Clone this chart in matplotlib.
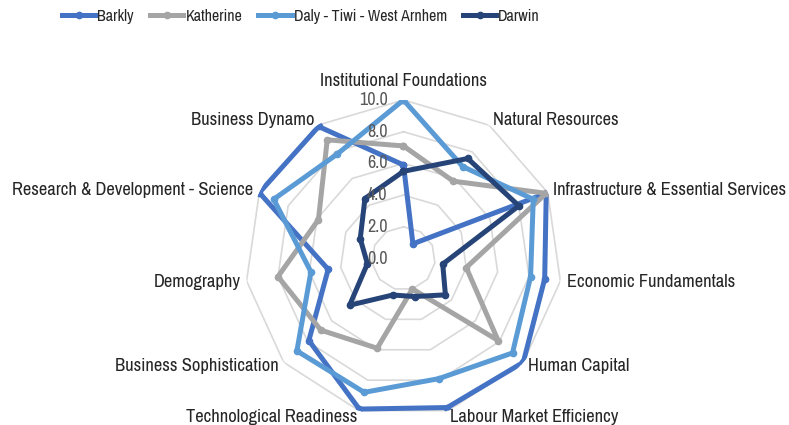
import numpy as np
import matplotlib.pyplot as plt
from matplotlib.lines import Line2D

plt.rcParams['font.family'] = ['Archivo Narrow', 'Liberation Sans', 'DejaVu Sans']

categories = ['Institutional Foundations', 'Natural Resources',
              'Infrastructure & Essential Services', 'Economic Fundamentals',
              'Human Capital', 'Labour Market Efficiency', 'Technological Readiness',
              'Business Sophistication', 'Demography',
              'Research & Development - Science', 'Business Dynamo']

barkly = [5.9, 1.1, 9.9, 9.0, 10.0, 9.8, 9.9, 7.9, 4.8, 10.0, 9.9]
katherine = [7.1, 5.8, 9.9, 4.0, 7.9, 2.0, 5.9, 6.9, 8.0, 5.9, 8.9]
daly = [10.0, 6.9, 9.0, 8.1, 9.1, 7.9, 8.8, 8.9, 5.9, 9.0, 7.8]
darwin = [5.5, 7.5, 8.0, 2.5, 3.5, 2.5, 2.4, 4.5, 2.3, 3.0, 4.5]

series = ['Barkly', 'Katherine', 'Daly - Tiwi - West Arnhem', 'Darwin']
colors = ['#4472C4', '#A5A5A5', '#5B9BD5', '#264478']
ticks = [0, 2, 4, 6, 8, 10]

n = len(categories)
angles = np.linspace(0, 2 * np.pi, n, endpoint=False)
closed = np.append(angles, angles[0])

fig = plt.figure(figsize=(7.89, 4.25), dpi=100)
ax = fig.add_axes([0.3105, 0.0188, 0.4018, 0.7459], projection='polar')
ax.set_theta_zero_location('N')
ax.set_theta_direction(-1)
ax.set_ylim(0, 10)
ax.axis('off')

# polygon gridlines
for r in ticks[1:]:
    ax.plot(closed, [r] * (n + 1), color='#D9D9D9', lw=1.2, zorder=1)

for r in ticks:
    ax.annotate(f'{r:.1f}', xy=(0, r), xytext=(-16, 0), textcoords='offset pixels',
                ha='right', va='center', fontsize=13, color='#595959', zorder=5)

for name, vals, c in zip(series, [barkly, katherine, daly, darwin], colors):
    v = np.append(vals, vals[0])
    ax.plot(closed, v, color=c, lw=3.6, marker='o', markersize=4.5,
            solid_joinstyle='round', zorder=3, label=name)

for a, lab in zip(angles, categories):
    s = np.sin(a)
    if abs(s) < 1e-6:
        ax.text(a, 11.2, lab, ha='center', va='center', fontsize=13.3, color='#262626')
    else:
        ax.text(a, 10.4, lab, ha='left' if s > 0 else 'right', va='center',
                fontsize=13.3, color='#262626')

handles = [Line2D([0], [0], color=c, lw=3.6, marker='o', markersize=4.5) for c in colors]
fig.legend(handles, series, loc='upper left', bbox_to_anchor=(62 / 789, 1 - 9 / 425),
           ncol=4, frameon=False, fontsize=11.5, handlelength=2.1, handletextpad=0.12,
           columnspacing=1.0, borderaxespad=0, borderpad=0, labelcolor='#262626')

fig.savefig('out.png', dpi=100)
